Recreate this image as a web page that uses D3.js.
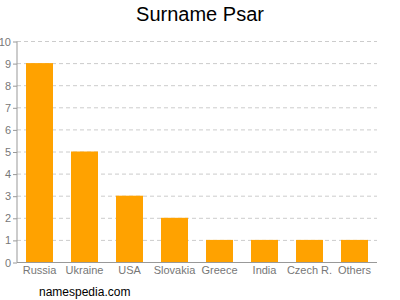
<!DOCTYPE html>
<html>
<head>
<meta charset="utf-8">
<script src="https://cdn.jsdelivr.net/npm/d3@7"></script>
<style>
  body { margin: 0; background: #fff; }
  text { font-family: "Liberation Sans", Arial, sans-serif; }
</style>
</head>
<body>
<svg id="chart" width="400" height="300"></svg>
<script>
var countries = ['Russia', 'Ukraine', 'USA', 'Slovakia', 'Greece', 'India', 'Czech R.', 'Others']
var counts = [9, 5, 3, 2, 1, 1, 1, 1]
var yTicks = [0, 1, 2, 3, 4, 5, 6, 7, 8, 9, 10]

var svg = d3.select('#chart')
var plotLeft = 17, plotRight = 377, plotTop = 41, plotBottom = 262

var x = d3.scaleBand().domain(countries).range([plotLeft, plotRight]).paddingInner(0.4).paddingOuter(0.2)
var y = d3.scaleLinear().domain([0, 10]).range([plotBottom, plotTop])

// title
svg.append('text')
  .attr('x', 200).attr('y', 21)
  .attr('text-anchor', 'middle')
  .attr('font-size', 20)
  .attr('fill', '#000')
  .text('Surname Psar')

// grid
svg.append('g').selectAll('line')
  .data(yTicks.filter(function (d) { return d > 0 }))
  .join('line')
  .attr('x1', plotLeft).attr('x2', plotRight)
  .attr('y1', function (d) { return y(d) + 0.5 })
  .attr('y2', function (d) { return y(d) + 0.5 })
  .attr('stroke', '#cccccc')
  .attr('stroke-dasharray', '4,3')

// bars
svg.append('g').selectAll('rect')
  .data(counts)
  .join('rect')
  .attr('x', function (d, i) { return x(countries[i]) })
  .attr('width', x.bandwidth())
  .attr('y', function (d) { return y(d) })
  .attr('height', function (d) { return y(0) - y(d) })
  .attr('fill', '#ffa200')

// y axis
var yAxis = svg.append('g')
  .attr('transform', 'translate(' + plotLeft + ',0.5)')
  .call(d3.axisLeft(y).tickValues(yTicks).tickSize(4).tickPadding(2))
yAxis.select('.domain').attr('stroke', '#999').attr('d', 'M0,' + plotTop + 'V' + plotBottom)
yAxis.selectAll('.tick line').attr('stroke', '#999')
yAxis.selectAll('.tick text').attr('fill', '#777').attr('font-size', 11)
  .attr('font-family', '"Liberation Sans", Arial, sans-serif')

// x axis
var xAxis = svg.append('g')
  .attr('transform', 'translate(0,' + (plotBottom + 0.5) + ')')
  .call(d3.axisBottom(x).tickSize(0).tickPadding(4))
xAxis.select('.domain').attr('stroke', '#999').attr('d', 'M' + plotLeft + ',0H' + plotRight)
xAxis.selectAll('.tick text').attr('fill', '#777').attr('font-size', 11)
  .attr('font-family', '"Liberation Sans", Arial, sans-serif')

// footer
svg.append('text')
  .attr('x', 39).attr('y', 296)
  .attr('font-size', 12)
  .attr('fill', '#000')
  .text('namespedia.com')
</script>
</body>
</html>
